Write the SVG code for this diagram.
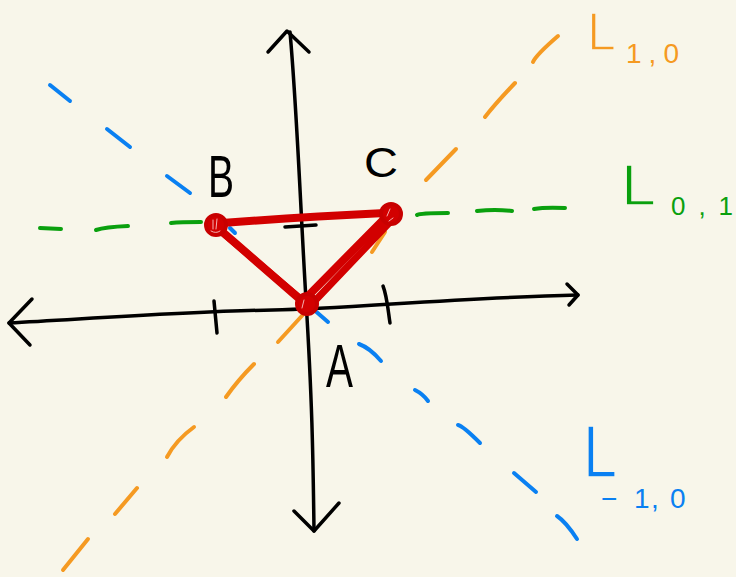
<svg xmlns="http://www.w3.org/2000/svg" width="736" height="577" viewBox="0 0 736 577">
<style>
.ax{fill:none;stroke:#000;stroke-width:3.5;stroke-linecap:round;stroke-linejoin:round}
.bl{fill:none;stroke:#0A80F2;stroke-width:4;stroke-linecap:round}
.or{fill:none;stroke:#F59A22;stroke-width:4;stroke-linecap:round}
.gr{fill:none;stroke:#0AA00E;stroke-width:4;stroke-linecap:round}
.edge{fill:none;stroke:#D20000;stroke-linecap:round;stroke-linejoin:round}
.vtx{fill:#D20000;stroke:#C80000;stroke-width:4}
.mark{fill:none;stroke:#F3B0B0;stroke-width:1;stroke-linecap:round}
.lbl{font-family:"Liberation Sans","DejaVu Sans",sans-serif;fill:#000}
.thin{stroke:#F8F6EA;stroke-width:1.4}
</style>
<rect width="736" height="577" fill="#F8F6EA"/>
<g id="axes">
<path class="ax" d="M290,32 C297,110 300,200 306,300 S313,450 314,531"/>
<path class="ax" d="M268,52 L287,31 L309,52"/>
<path class="ax" d="M294,511 L314,531 L339,503"/>
<path class="ax" d="M9,323 C100,318 200,311 273,310 S450,298 578,295"/>
<path class="ax" d="M32,299 L9,323 L30,345"/>
<path class="ax" d="M567,284 L578,295 L569,305"/>
<path class="ax" d="M214,301 L217,333"/>
<path class="ax" d="M383,286 C387,296 388,310 390,323"/>
<path class="ax" d="M285,227 L316,225"/>
</g>
<g id="line-L-1-0-blue">
<path class="bl" d="M50,85 L70,101"/>
<path class="bl" d="M107,129 L130,147"/>
<path class="bl" d="M167,176 L190,193"/>
<path class="bl" d="M230,228 L235,233"/>
<path class="bl" d="M305,302 L328,322"/>
<path class="bl" d="M359,344 Q370,348 381,361"/>
<path class="bl" d="M415,390 Q423,394 428,401"/>
<path class="bl" d="M458,425 Q463,426 480,443"/>
<path class="bl" d="M514,473 L536,492"/>
<path class="bl" d="M557,516 Q566,522 577,539"/>
</g>
<g id="line-L-1-0-orange">
<path class="or" d="M533,62 Q536,55 558,36"/>
<path class="or" d="M485,117 Q495,104 515,83"/>
<path class="or" d="M426,180 L456,149"/>
<path class="or" d="M372,252 L385,232"/>
<path class="or" d="M278,342 L310,307"/>
<path class="or" d="M226,397 Q238,380 254,364"/>
<path class="or" d="M167,457 Q176,440 194,427"/>
<path class="or" d="M115,514 L137,488"/>
<path class="or" d="M63,570 L88,539"/>
</g>
<g id="line-L-0-1">
<path class="gr" d="M40,228 L61,229"/>
<path class="gr" d="M96,230 Q105,227 128,226"/>
<path class="gr" d="M171,223 Q180,222 201,222"/>
<path class="gr" d="M417,215 Q420,213 448,213"/>
<path class="gr" d="M477,211 Q495,209 512,211"/>
<path class="gr" d="M534,209 Q545,207 565,208"/>
</g>
<g id="connectors">
<path class="edge" stroke-width="8" d="M222,223 Q300,217 385,213"/>
<path class="edge" stroke-width="8" d="M218,228 L303,302"/>
<path class="edge" stroke-width="7" d="M223,233 L309,306"/>
<path class="edge" stroke-width="8" d="M386,217 L303,301"/>
<path class="edge" stroke-width="7" d="M391,221 L310,306"/>
</g>
<g id="node-B">
<circle class="vtx" cx="216" cy="225" r="10"/>
<path class="mark" d="M213,220 L213,229 M217,219 L216,229 M211,231 Q216,234 220,231"/>
<text class="lbl" x="208" y="197" font-size="60" textLength="26" lengthAdjust="spacingAndGlyphs">B</text>
</g>
<g id="node-C">
<circle class="vtx" cx="391" cy="214" r="10"/>
<path class="mark" d="M390,209 L387,216 M393,218 L389,221"/>
<text class="lbl" x="364" y="177" font-size="42" textLength="34" lengthAdjust="spacingAndGlyphs">C</text>
</g>
<g id="node-A">
<circle class="vtx" cx="307" cy="304" r="10"/>
<path class="mark" d="M304,300 L302,308"/>
<text class="lbl" x="326" y="387" font-size="62" textLength="27" lengthAdjust="spacingAndGlyphs">A</text>
</g>
<g id="label-L-1-0">
<text class="lbl thin" style="fill:#F59A22" transform="translate(587,50) scale(1,1.15)" x="0" y="0" font-size="46" textLength="29" lengthAdjust="spacingAndGlyphs">L</text>
<text class="lbl" style="fill:#F59A22" x="626" y="63" font-size="28" textLength="53" lengthAdjust="spacing">1,0</text>
</g>
<g id="label-L-0-1">
<text class="lbl thin" style="fill:#0AA00E" x="621" y="205" font-size="58" textLength="35" lengthAdjust="spacingAndGlyphs">L</text>
<text class="lbl" style="fill:#0AA00E" x="671" y="215" font-size="26" textLength="62" lengthAdjust="spacing">0,1</text>
</g>
<g id="label-L--1-0">
<text class="lbl thin" style="fill:#0A80F2" x="583" y="477" font-size="75" textLength="34" lengthAdjust="spacingAndGlyphs">L</text>
<text class="lbl" style="fill:#0A80F2" font-size="28" y="508" x="601 634 651 670">−1,0</text>
</g>
</svg>
